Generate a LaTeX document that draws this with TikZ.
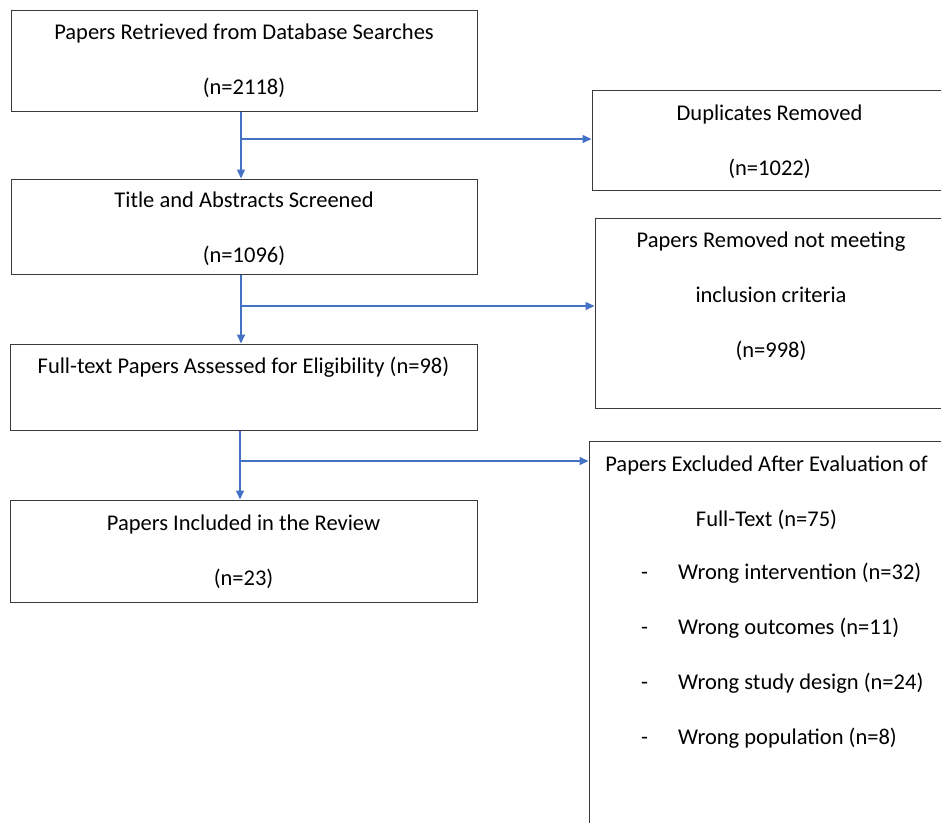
\documentclass[tikz,border=0pt]{standalone}
\usepackage{fontspec}
\setmainfont{Carlito}
\usepackage{xcolor}
\usetikzlibrary{arrows.meta}
\definecolor{flowblue}{HTML}{4472C4}
\definecolor{edgegray}{HTML}{3A3A3A}

\begin{document}
\begin{tikzpicture}[x=1pt, y=-1pt,
  box/.style={draw=edgegray, line width=1pt, inner sep=0pt},
  txt/.style={font=\fontsize{22.5}{55}\selectfont, align=center, inner sep=0pt, anchor=base},
  item/.style={font=\fontsize{22.5}{27}\selectfont, inner sep=0pt, anchor=base west},
  flow/.style={draw=flowblue, line width=1.5pt, -{Triangle[length=9pt, width=8pt]}}]
\useasboundingbox (0,0) rectangle (941,822);

% Main column (text anchored at the baseline of its last line)
\node[box, minimum width=466pt, minimum height=101pt] (retr) at (244,60.5) {};
\node[txt] (retrtxt) at (244,94) {Papers Retrieved from Database Searches\\(n=2118)};

\node[box, minimum width=466pt, minimum height=95pt] (scr) at (244,226.5) {};
\node[txt] (scrtxt) at (244,262) {Title and Abstracts Screened\\(n=1096)};

\node[box, minimum width=467pt, minimum height=86pt] (elig) at (243.5,387) {};
\node[txt] (eligtxt) at (243.5,373) {Full-text Papers Assessed for Eligibility (n=98)};

\node[box, minimum width=467pt, minimum height=102pt] (incl) at (243.5,551) {};
\node[txt] (incltxt) at (243.5,585) {Papers Included in the Review\\(n=23)};

% Side boxes
\node[box, minimum width=355pt, minimum height=100pt] (dup) at (769.5,140) {};
\node[txt] (duptxt) at (769.5,175) {Duplicates Removed\\(n=1022)};

\node[box, minimum width=352pt, minimum height=190pt] (rem) at (771,313) {};
\node[txt] (remtxt) at (771,357) {Papers Removed not meeting\\inclusion criteria\\(n=998)};

\node[box, minimum width=356pt, minimum height=395pt] (excl) at (767,638.5) {};
\node[txt] (excltxt) at (766.5,526) {Papers Excluded After Evaluation of\\Full-Text (n=75)};
\node[item] (d1) at (641,579) {-};
\node[item] (i1) at (678,579) {Wrong intervention (n=32)};
\node[item] (d2) at (641,634) {-};
\node[item] (i2) at (678,634) {Wrong outcomes (n=11)};
\node[item] (d3) at (641,689) {-};
\node[item] (i3) at (678,689) {Wrong study design (n=24)};
\node[item] (d4) at (641,744) {-};
\node[item] (i4) at (678,744) {Wrong population (n=8)};

% Connectors
\coordinate (j1) at (241,139);
\coordinate (j2) at (241,306);
\coordinate (j3) at (240,461);
\draw[flow] (retr.south -| j1) -- (scr.north -| j1);
\draw[flow] (j1) -- (j1 -| dup.west);
\draw[flow] (scr.south -| j2) -- (elig.north -| j2);
\draw[flow] (j2) -- (j2 -| rem.west);
\draw[flow] (elig.south -| j3) -- (incl.north -| j3);
\draw[flow] (j3) -- (j3 -| excl.west);
\end{tikzpicture}
\end{document}
